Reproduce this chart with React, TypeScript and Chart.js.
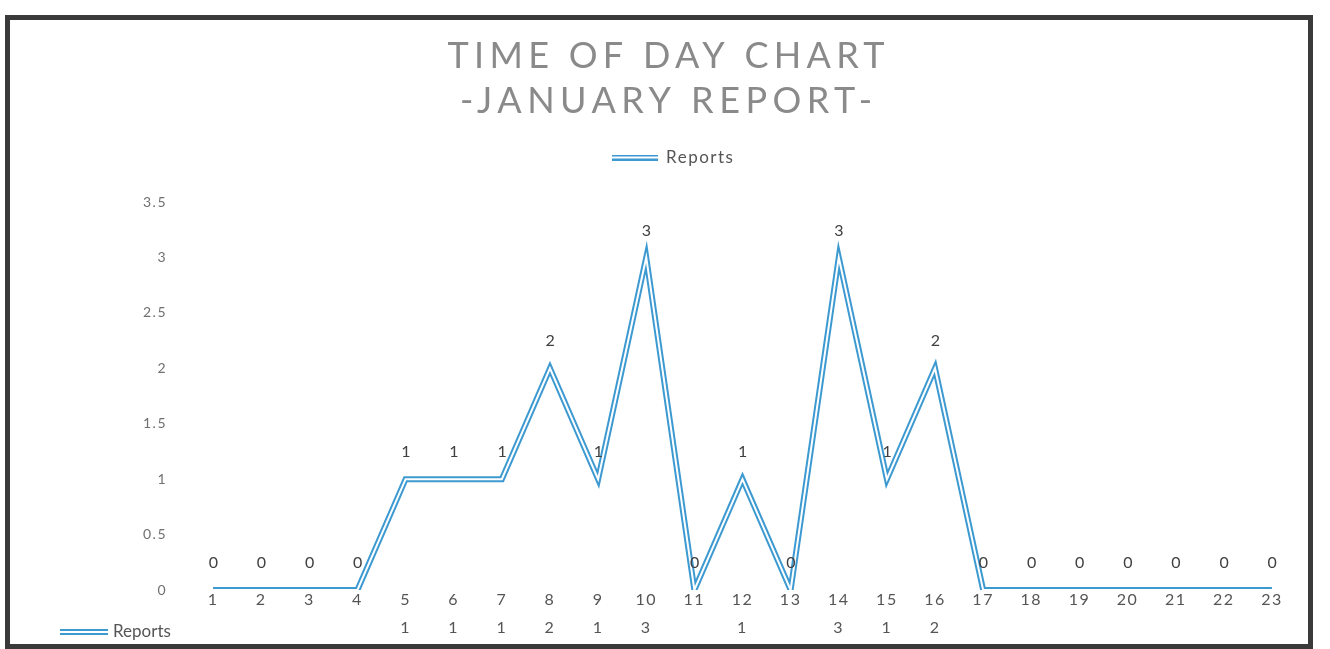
import { useEffect, useRef } from 'react';
import { Chart, registerables } from 'chart.js';

Chart.register(...registerables);

// ---- data ----
const hours: string[] = ['1', '2', '3', '4', '5', '6', '7', '8', '9', '10', '11', '12', '13', '14', '15', '16', '17', '18', '19', '20', '21', '22', '23'];
const reports: number[] = [0, 0, 0, 0, 1, 1, 1, 2, 1, 3, 0, 1, 0, 3, 1, 2, 0, 0, 0, 0, 0, 0, 0];
const titleLines: string[] = ['TIME OF DAY CHART', '-JANUARY REPORT-'];
const seriesName = 'Reports';
const yMin = 0;
const yMax = 3.5;
const yStep = 0.5;

const BLUE = '#3d9ad1';
const FONT = 'Lato';
const SPACING = '1.5px';

function makeDoubleLineIcon(w: number, h: number): HTMLCanvasElement {
  const c = document.createElement('canvas');
  c.width = w;
  c.height = h;
  const g = c.getContext('2d')!;
  g.fillStyle = BLUE;
  g.fillRect(0, 0, w, h);
  g.fillStyle = '#ffffff';
  g.fillRect(0, h / 2 - 1, w, 2);
  return c;
}

const legendGapPlugin = {
  id: 'legendGap',
  beforeInit(chart: any) {
    const legend = chart.legend;
    if (!legend) return;
    const origFit = legend.fit;
    legend.fit = function () {
      origFit.call(this);
      this.height += 26;
    };
  },
};

const spacingPlugin = {
  id: 'spacing',
  beforeUpdate(chart: any) {
    (chart.ctx as any).letterSpacing = SPACING;
  },
};

const framePlugin = {
  id: 'frame',
  beforeDraw(chart: any) {
    const ctx = chart.ctx;
    ctx.save();
    ctx.fillStyle = '#ffffff';
    ctx.fillRect(0, 0, chart.width, chart.height);
    ctx.strokeStyle = '#3a3a3a';
    ctx.lineWidth = 5;
    ctx.strokeRect(7.5, 17.5, 1303, 629);
    ctx.restore();
    (ctx as any).letterSpacing = SPACING;
  },
};

const titlePlugin = {
  id: 'spacedTitle',
  afterDraw(chart: any) {
    const ctx = chart.ctx;
    const targets = [437, 412];
    const ys = [56, 101];
    ctx.save();
    ctx.fillStyle = '#8a8a8a';
    ctx.font = `400 36px ${FONT}`;
    ctx.textBaseline = 'middle';
    ctx.textAlign = 'left';
    titleLines.forEach((t, i) => {
      (ctx as any).letterSpacing = '0px';
      const w0 = ctx.measureText(t).width;
      const sp = (targets[i] - w0) / (t.length - 1);
      (ctx as any).letterSpacing = `${sp}px`;
      ctx.fillText(t, 666 - targets[i] / 2, ys[i]);
    });
    ctx.restore();
    (ctx as any).letterSpacing = '0px';
  },
};

const labelsPlugin = {
  id: 'pointLabels',
  afterDatasetsDraw(chart: any) {
    const ctx = chart.ctx;
    const meta = chart.getDatasetMeta(1);
    ctx.save();
    ctx.font = `16px ${FONT}`;
    ctx.fillStyle = '#404040';
    ctx.textAlign = 'center';
    ctx.textBaseline = 'middle';
    meta.data.forEach((pt: any, i: number) => {
      ctx.fillText(String(reports[i]), pt.x + 1, pt.y - 27);
    });
    ctx.restore();
  },
};

const tableKeyPlugin = {
  id: 'tableKey',
  afterDraw(chart: any) {
    const ctx = chart.ctx;
    const y = chart.scales.x.top + 42;
    ctx.save();
    ctx.drawImage(makeDoubleLineIcon(48, 6), 60, y - 3);
    ctx.font = `17px ${FONT}`;
    ctx.fillStyle = '#555555';
    ctx.textAlign = 'left';
    ctx.textBaseline = 'middle';
    ctx.fillText(seriesName, 113, y);
    ctx.restore();
  },
};

export default function App() {
  const ref = useRef<HTMLCanvasElement>(null);

  useEffect(() => {
    if (!ref.current) return;
    const icon = makeDoubleLineIcon(46, 6);
    const chart = new Chart(ref.current, {
      type: 'line',
      data: {
        labels: hours.map((h, i) => [h, reports[i] === 0 ? '' : String(reports[i])]),
        datasets: [
          {
            label: seriesName + ' inner',
            data: reports,
            borderColor: '#ffffff',
            borderWidth: 2,
            borderJoinStyle: 'miter',
            pointRadius: 0,
            tension: 0,
            fill: false,
          },
          {
            label: seriesName,
            data: reports,
            borderColor: BLUE,
            borderWidth: 6,
            borderJoinStyle: 'miter',
            pointRadius: 0,
            tension: 0,
            fill: false,
          },
        ],
      },
      options: {
        responsive: false,
        animation: false,
        devicePixelRatio: 1,
        layout: { padding: { left: 50, right: 34, top: 108, bottom: 0 } },
        plugins: {
          tooltip: { enabled: false },
          title: { display: false },
          legend: {
            display: true,
            position: 'top',
            labels: {
              usePointStyle: true,
              pointStyleWidth: 46,
              padding: 41,
              font: { family: FONT, size: 17 },
              color: '#555555',
              generateLabels: () => [
                {
                  text: seriesName,
                  pointStyle: icon as any,
                  fillStyle: BLUE,
                  strokeStyle: BLUE,
                  lineWidth: 0,
                  hidden: false,
                  datasetIndex: 1,
                  fontColor: '#555555',
                } as any,
              ],
            },
          },
        },
        scales: {
          x: {
            offset: true,
            grid: { display: false },
            border: { display: false },
            afterFit: (s: any) => {
              s.height = 59;
            },
            ticks: {
              autoSkip: false,
              maxRotation: 0,
              padding: -12,
              color: '#555555',
              font: { family: FONT, size: 16, lineHeight: 1.75 },
            },
          },
          y: {
            min: yMin,
            max: yMax,
            grid: { display: false },
            border: { display: false },
            afterFit: (s: any) => {
              s.width = 139;
            },
            ticks: {
              stepSize: yStep,
              padding: 14,
              color: '#707070',
              font: { family: FONT, size: 14 },
              callback: (v: any) => String(Number(v)),
            },
          },
        },
      },
      plugins: [spacingPlugin, legendGapPlugin, framePlugin, titlePlugin, labelsPlugin, tableKeyPlugin],
    });
    return () => chart.destroy();
  }, []);

  return (
    <div style={{ position: 'fixed', left: 0, top: 0, width: 1330, height: 649, background: '#fff' }}>
      <canvas ref={ref} width={1330} height={649} style={{ display: 'block' }} />
    </div>
  );
}
